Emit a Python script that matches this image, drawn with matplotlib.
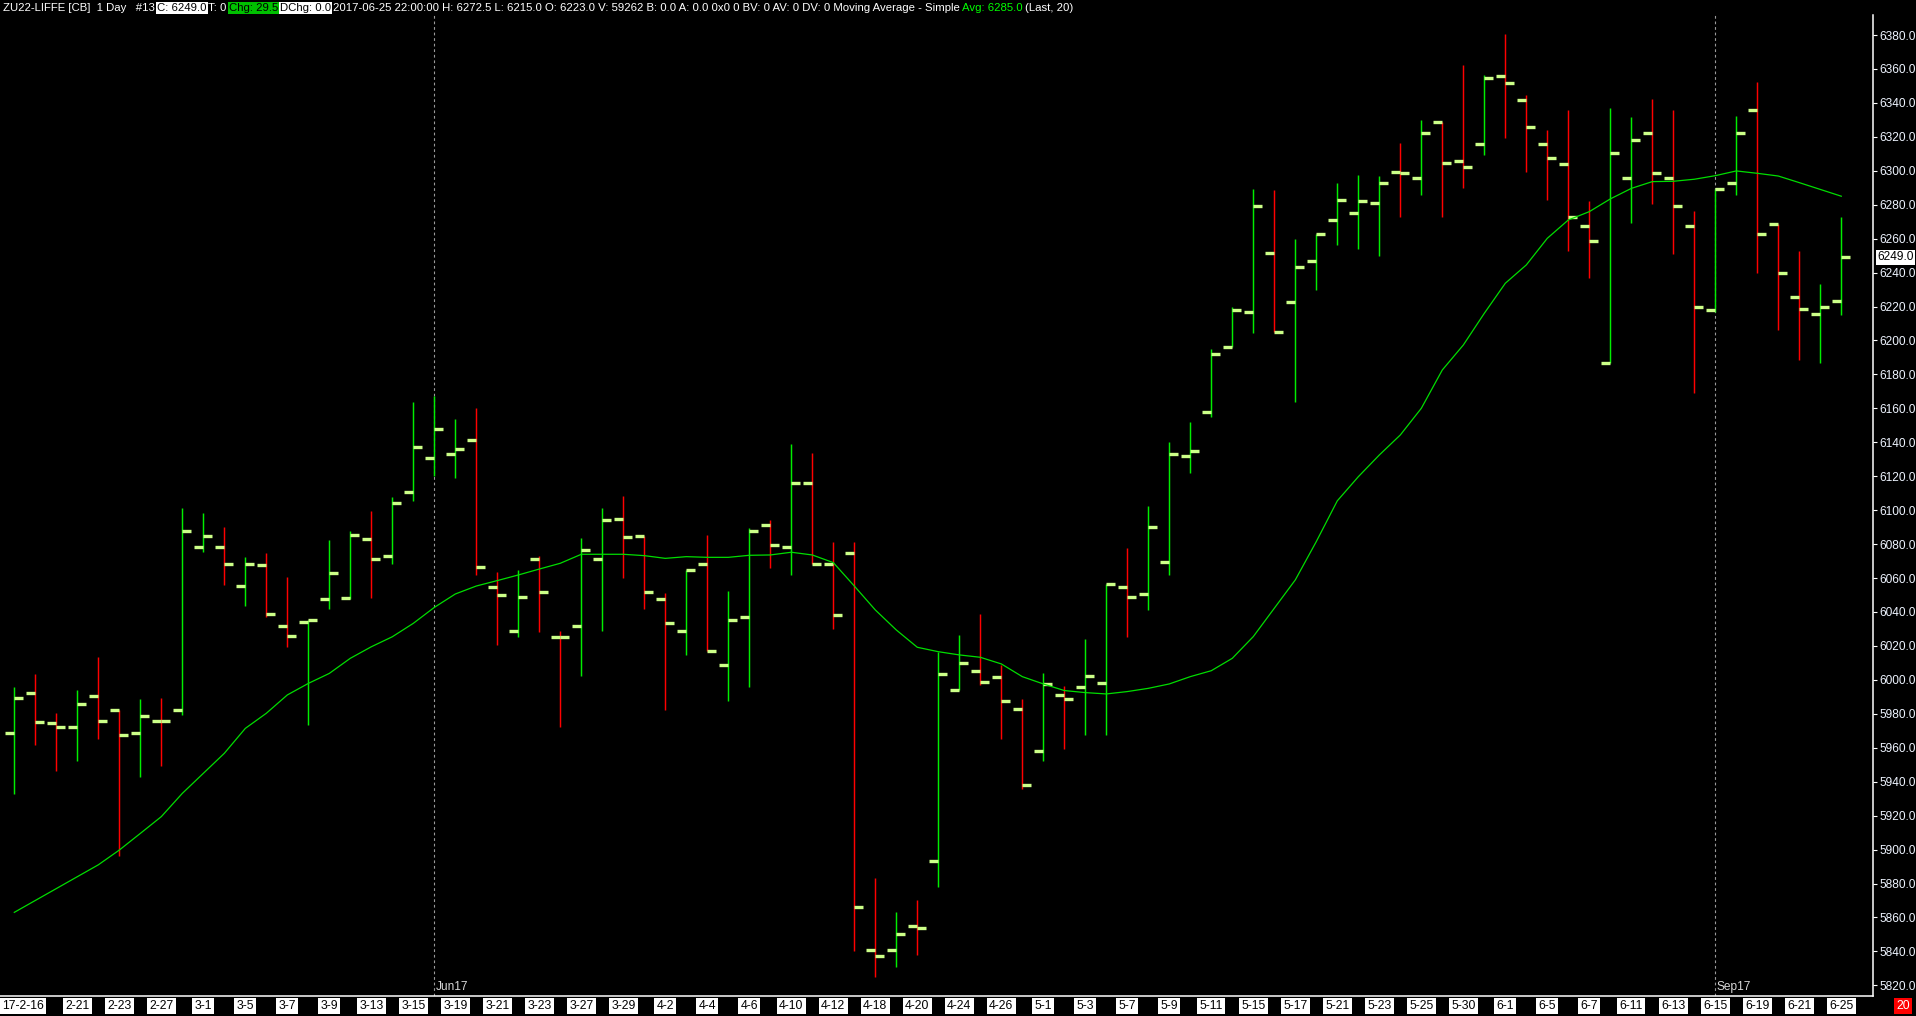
import matplotlib
matplotlib.use('Agg')
import matplotlib.pyplot as plt
import matplotlib.transforms as mtransforms
import numpy as np

# ---------------- data ----------------
opens = [5968.5, 5992.5, 5974.5, 5972, 5990.5, 5982, 5968.5, 5976, 5982, 6078,
         6078, 6055.5, 6067.5, 6031.5, 6034, 6047.5, 6048, 6083, 6073, 6110.5,
         6131, 6133, 6141.5, 6055, 6029, 6071, 6025.5, 6031.5, 6071.5, 6094.5,
         6084.5, 6047.5, 6028.5, 6068, 6009, 6037, 6091, 6078.5, 6116, 6068,
         6075, 5841, 5841, 5855, 5893, 5994, 6005.5, 6001.5, 5983, 5958,
         5991, 5996, 5998, 6055, 6050.5, 6069.5, 6132, 6158, 6196, 6217,
         6251.5, 6222.5, 6247, 6271, 6275, 6281, 6299, 6295.5, 6328.5, 6305.5,
         6316, 6356, 6341.5, 6316, 6304, 6267.5, 6186.5, 6296, 6322, 6296,
         6267.5, 6218, 6293, 6336, 6268.5, 6225.5, 6215.5, 6223]
highs = [5996, 6003.5, 5980.5, 5994, 6013.5, 5982, 5988.5, 5989.5, 6101.5, 6098.5,
         6090, 6072.5, 6074.5, 6060.5, 6035.5, 6082.5, 6087.5, 6099.5, 6107.5, 6164,
         6167, 6153.5, 6160, 6063.5, 6065, 6073, 6029, 6083.5, 6101.5, 6108.5,
         6084.5, 6051, 6064.5, 6085.5, 6052.5, 6089.5, 6094, 6139, 6133.5, 6081,
         6081, 5883.5, 5863, 5870.5, 6016.5, 6026.5, 6039, 6009, 5988.5, 6004,
         5996.5, 6024, 6056.5, 6077.5, 6102.5, 6140, 6152, 6195, 6220, 6289.5,
         6288.5, 6260, 6263, 6293, 6297.5, 6297, 6316.5, 6330, 6328.5, 6362.5,
         6356.5, 6380.5, 6344.5, 6324, 6336, 6282, 6337, 6331.5, 6342.5, 6336,
         6276, 6289.5, 6332.5, 6352.5, 6268.5, 6252.5, 6233.5, 6272.5]
lows = [5932.5, 5961.5, 5946.5, 5952, 5965, 5896, 5943, 5949.5, 5979.5, 6075.5,
        6056, 6043.5, 6037, 6019.5, 5973.5, 6042, 6047.5, 6048.5, 6068, 6105.5,
        6120, 6119, 6062, 6020.5, 6025.5, 6028, 5972.5, 6002.5, 6029, 6060,
        6042, 5982.5, 6014.5, 6017, 5987.5, 5996, 6066, 6061.5, 6068, 6030,
        5840, 5825, 5831, 5838, 5878, 5994, 5997, 5965, 5935.5, 5952,
        5959, 5967.5, 5967.5, 6025.5, 6041, 6062, 6122, 6155, 6196, 6204.5,
        6205, 6164, 6229.5, 6256.5, 6254, 6249.5, 6272.5, 6286, 6272.5, 6290,
        6309, 6319.5, 6299.5, 6282.5, 6253, 6237, 6186.5, 6269.5, 6280.5, 6251,
        6169, 6216.5, 6286, 6239.5, 6206, 6188.5, 6187, 6215]
closes = [5989.5, 5975, 5972, 5986, 5975.5, 5967.5, 5978.5, 5975.5, 6087.5, 6085,
          6068.5, 6068, 6039, 6026, 6035, 6063, 6085.5, 6071, 6104.5, 6137,
          6148, 6136, 6066.5, 6050, 6049, 6052, 6025, 6076.5, 6094, 6084,
          6051.5, 6033.5, 6064.5, 6017, 6035, 6087.5, 6079.5, 6116, 6068, 6038.5,
          5866, 5837, 5850, 5853.5, 6003.5, 6010, 5998.5, 5987.5, 5938, 5997.5,
          5988.5, 6002.5, 6056.5, 6049, 6090, 6133, 6135, 6192, 6218, 6279.5,
          6205, 6243.5, 6263, 6283, 6282, 6293, 6298.5, 6322.5, 6304.5, 6302.5,
          6354.5, 6351.5, 6325.5, 6307.5, 6272.5, 6258.5, 6310.5, 6318, 6298.5, 6279.5,
          6219.5, 6289.5, 6322.5, 6262.5, 6240, 6218.5, 6219.5, 6249]
ma20 = [5863, 5870, 5877, 5884, 5891, 5899.7, 5909.5, 5919.4, 5933.1, 5944.9,
        5956.7, 5971.4, 5980.3, 5991.1, 5997.9, 6003.8, 6012.7, 6019.5, 6025.4, 6033.3,
        6042.7, 6050.6, 6055.3, 6058.5, 6061.8, 6065.3, 6068.7, 6074, 6074, 6074,
        6073.2, 6071.6, 6072.6, 6072.2, 6072.2, 6073.4, 6073.6, 6075.2, 6073.6, 6069.1,
        6055.3, 6041.2, 6029.4, 6019.2, 6016.6, 6014.7, 6013.3, 6009.4, 6001.9, 5997.6,
        5993.7, 5992.5, 5991.7, 5993.1, 5995, 5997.6, 6001.9, 6005.4, 6012.7, 6025.5,
        6042.2, 6058.9, 6081.5, 6105.5, 6119.7, 6132.5, 6144.3, 6160, 6182.6, 6197.3,
        6216, 6233.7, 6244.5, 6260.2, 6271, 6275.9, 6283.4, 6289.6, 6293.6, 6293.8,
        6295, 6297.1, 6299.9, 6298.5, 6296.9, 6293, 6289, 6285]
date_labels = ["17-2-16", "2-21", "2-23", "2-27", "3-1", "3-5", "3-7", "3-9", "3-13", "3-15",
               "3-19", "3-21", "3-23", "3-27", "3-29", "4-2", "4-4", "4-6", "4-10", "4-12",
               "4-18", "4-20", "4-24", "4-26", "5-1", "5-3", "5-7", "5-9", "5-11", "5-15",
               "5-17", "5-21", "5-23", "5-25", "5-30", "6-1", "6-5", "6-7", "6-11", "6-13",
               "6-15", "6-19", "6-21", "6-25"]
month_bars = [20, 81]
month_labels = ["Jun17", "Sep17"]
ytick_vals = list(range(5820, 6381, 20))
last_close = 6249.0
header_parts = [
    ("ZU22-LIFFE [CB]  1 Day   #13", "white", None),
    ("C: 6249.0", "black", "white"),
    ("T: 0", "white", None),
    ("Chg: 29.5", "black", "#00c000"),
    ("DChg: 0.0", "black", "white"),
    ("2017-06-25 22:00:00 H: 6272.5 L: 6215.0 O: 6223.0 V: 59262 B: 0.0 A: 0.0 0x0 0 BV: 0 AV: 0 DV: 0 Moving Average - Simple", "white", None),
    ("Avg: 6285.0", "#00ff00", None),
    ("(Last, 20)", "white", None),
]

# ---------------- figure ----------------
W, H = 1916, 1016
FONT = "Liberation Sans"
plt.rcParams['font.family'] = [FONT, 'DejaVu Sans']
fig = plt.figure(figsize=(W / 100, H / 100), dpi=100, facecolor='black')

ax_left, ax_right, ax_top, ax_bot = 0, 1873, 15, 996
ax = fig.add_axes([ax_left / W, 1 - ax_bot / H, (ax_right - ax_left) / W, (ax_bot - ax_top) / H])
ax.set_facecolor('black')

px_per_bar = 21.0
x0_px = 14.3
px_per_unit = 1.697
y_ref_px, y_ref_val = 35, 6380

ax.set_xlim((ax_left - x0_px) / px_per_bar, (ax_right - x0_px) / px_per_bar)
ax.set_ylim(y_ref_val - (ax_bot - y_ref_px) / px_per_unit,
            y_ref_val + (y_ref_px - ax_top) / px_per_unit)

n = len(opens)
x = np.arange(n)
o = np.array(opens); c = np.array(closes)
cols = np.where(c > o, '#00ee00', '#ff0000')

ax.vlines(x, lows, highs, colors=cols, linewidth=1.05, zorder=3)
tick_col = '#ccff88'
hw = 0.42
ax.hlines(opens, x - hw, x, colors=tick_col, linewidth=2.4, zorder=4)
ax.hlines(closes, x, x + hw, colors=tick_col, linewidth=2.4, zorder=4)
ax.plot(x, ma20, color='#00dd00', linewidth=0.9, zorder=5)

for mb, ml in zip(month_bars, month_labels):
    ax.axvline(mb, color='#9a9a9a', linewidth=0.8, linestyle=(0, (2.5, 2.5)), zorder=1)
    ax.text(mb + 0.08, 0.003, ml, transform=mtransforms.blended_transform_factory(ax.transData, ax.transAxes),
            color='#d8d8d8', fontsize=8.6, ha='left', va='bottom')

for s in ['top', 'left']:
    ax.spines[s].set_visible(False)
for s in ['bottom', 'right']:
    ax.spines[s].set_color('white')
    ax.spines[s].set_linewidth(1.1)

ax.yaxis.tick_right()
ax.set_yticks(ytick_vals)
ax.set_yticklabels([f"{v:.1f}" for v in ytick_vals])
ax.tick_params(axis='y', colors='white', labelcolor='#eef4ff', length=3, width=0.8,
               labelsize=8.6, pad=1.5)
ax.set_xticks([])

blend = mtransforms.blended_transform_factory(ax.transData, ax.transAxes)
lab_y = -(1006 - ax_bot) / (ax_bot - ax_top)
for k, lbl in enumerate(date_labels):
    bar = 2 * k + 1
    box = dict(boxstyle='square,pad=0.18', fc='white', ec='none')
    if k == 0:
        ax.text(0.001, lab_y, lbl, transform=ax.transAxes, ha='left', va='center',
                fontsize=8.8, color='black', bbox=box, clip_on=False)
    else:
        ax.text(bar, lab_y, lbl, transform=blend, ha='center', va='center',
                fontsize=8.8, color='black', bbox=box, clip_on=False)

# current price marker
yblend = mtransforms.blended_transform_factory(ax.transAxes, ax.transData)
ax.text(1.0025, last_close, f"{last_close:.1f}", transform=yblend, ha='left', va='center',
        fontsize=8.6, color='black', bbox=dict(boxstyle='square,pad=0.12', fc='white', ec='none'),
        clip_on=False, zorder=10)

# red box bottom right
fig.text(1903 / W, 1 - 1006 / H, "20", color='white', fontsize=8.8, ha='center', va='center',
         bbox=dict(boxstyle='square,pad=0.2', fc='#ff0000', ec='none'))

# header
fig.canvas.draw()
r = fig.canvas.get_renderer()
xpos = 3
for txt, fg, bg in header_parts:
    kw = {}
    if bg is not None:
        kw['bbox'] = dict(boxstyle='square,pad=0.08', fc=bg, ec='none')
    t = fig.text(xpos / W, 1 - 8 / H, txt, color=fg, fontsize=8.2, ha='left', va='center', **kw)
    bb = t.get_window_extent(r)
    xpos = bb.x1 + (1.5 if bg is not None else 2.5)

fig.savefig('out.png', dpi=100, facecolor='black')
